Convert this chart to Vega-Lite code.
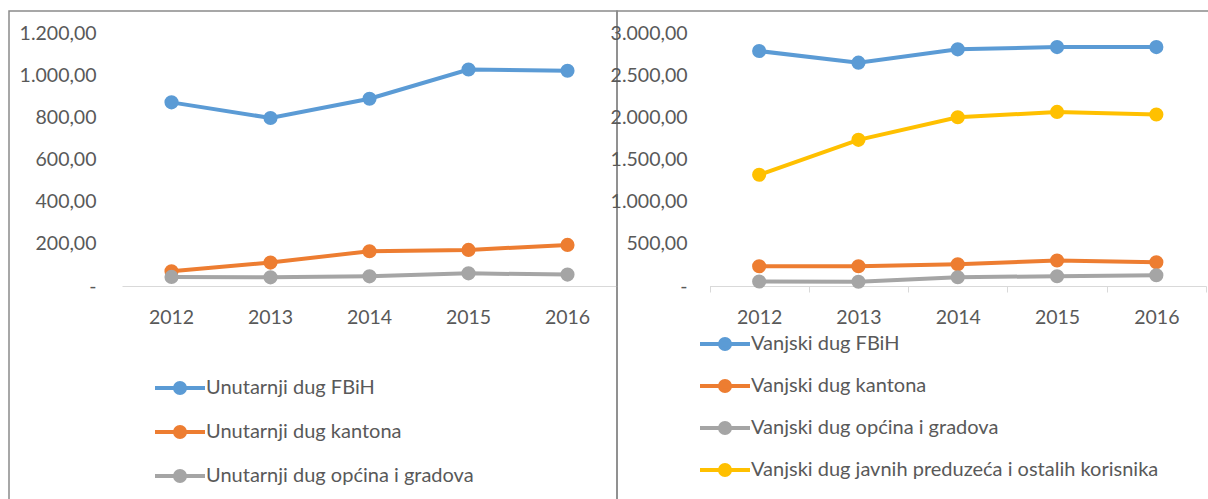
{
  "$schema": "https://vega.github.io/schema/vega-lite/v6.json",
  "background": "white",
  "padding": {"left": 8, "top": 10, "right": 0, "bottom": 0},
  "spacing": 0,
  "bounds": "flush",
  "config": {
    "locale": {"number": {"decimal": ",", "thousands": ".", "grouping": [3], "currency": ["", ""]}},
    "view": {"stroke": "#8a8a8a", "strokeWidth": 1.5},
    "font": "Lato",
    "axis": {"labelFont": "Lato", "labelFontSize": 19.5, "labelColor": "#595959", "grid": false, "title": null},
    "legend": {
      "orient": "none",
      "title": null,
      "symbolType": "M-2.5,0H2.5M-0.5,0A0.5,0.5,0,1,1,0.5,0A0.5,0.5,0,1,1,-0.5,0Z",
      "symbolSize": 400,
      "symbolStrokeWidth": 4,
      "labelFont": "Lato",
      "labelFontSize": 20,
      "labelColor": "#595959",
      "labelOffset": 14,
      "labelLimit": 0,
      "padding": 0
    }
  },
  "datasets": {
    "unutarnji": [
      {"series": "Unutarnji dug FBiH", "year": "2012", "value": 871},
      {"series": "Unutarnji dug FBiH", "year": "2013", "value": 797},
      {"series": "Unutarnji dug FBiH", "year": "2014", "value": 888},
      {"series": "Unutarnji dug FBiH", "year": "2015", "value": 1027},
      {"series": "Unutarnji dug FBiH", "year": "2016", "value": 1021},
      {"series": "Unutarnji dug kantona", "year": "2012", "value": 70},
      {"series": "Unutarnji dug kantona", "year": "2013", "value": 111},
      {"series": "Unutarnji dug kantona", "year": "2014", "value": 165},
      {"series": "Unutarnji dug kantona", "year": "2015", "value": 171},
      {"series": "Unutarnji dug kantona", "year": "2016", "value": 195},
      {"series": "Unutarnji dug općina i gradova", "year": "2012", "value": 43},
      {"series": "Unutarnji dug općina i gradova", "year": "2013", "value": 41},
      {"series": "Unutarnji dug općina i gradova", "year": "2014", "value": 46},
      {"series": "Unutarnji dug općina i gradova", "year": "2015", "value": 60},
      {"series": "Unutarnji dug općina i gradova", "year": "2016", "value": 54}
    ],
    "vanjski": [
      {"series": "Vanjski dug FBiH", "year": "2012", "value": 2786},
      {"series": "Vanjski dug FBiH", "year": "2013", "value": 2648},
      {"series": "Vanjski dug FBiH", "year": "2014", "value": 2806},
      {"series": "Vanjski dug FBiH", "year": "2015", "value": 2833},
      {"series": "Vanjski dug FBiH", "year": "2016", "value": 2833},
      {"series": "Vanjski dug kantona", "year": "2012", "value": 234},
      {"series": "Vanjski dug kantona", "year": "2013", "value": 234},
      {"series": "Vanjski dug kantona", "year": "2014", "value": 258},
      {"series": "Vanjski dug kantona", "year": "2015", "value": 302},
      {"series": "Vanjski dug kantona", "year": "2016", "value": 282},
      {"series": "Vanjski dug općina i gradova", "year": "2012", "value": 53},
      {"series": "Vanjski dug općina i gradova", "year": "2013", "value": 50},
      {"series": "Vanjski dug općina i gradova", "year": "2014", "value": 104},
      {"series": "Vanjski dug općina i gradova", "year": "2015", "value": 116},
      {"series": "Vanjski dug općina i gradova", "year": "2016", "value": 128},
      {"series": "Vanjski dug javnih preduzeća i ostalih korisnika", "year": "2012", "value": 1319},
      {"series": "Vanjski dug javnih preduzeća i ostalih korisnika", "year": "2013", "value": 1733},
      {"series": "Vanjski dug javnih preduzeća i ostalih korisnika", "year": "2014", "value": 2001},
      {"series": "Vanjski dug javnih preduzeća i ostalih korisnika", "year": "2015", "value": 2064},
      {"series": "Vanjski dug javnih preduzeća i ostalih korisnika", "year": "2016", "value": 2033}
    ]
  },
  "hconcat": [
    {
      "width": 608,
      "height": 489,
      "data": {"name": "unutarnji"},
      "encoding": {
        "x": {
          "field": "year", "type": "ordinal", "bandPosition": 0.5,
          "scale": {"type": "band", "range": [113, 608], "paddingInner": 0, "paddingOuter": 0},
          "axis": {"offset": -214, "ticks": false, "tickSize": 0, "labelPadding": 22, "domainColor": "#d9d9d9", "domainWidth": 1, "labelAngle": 0}
        },
        "y": {
          "field": "value", "type": "quantitative",
          "scale": {"domain": [0, 1200], "range": [275, 22], "nice": false},
          "axis": {"values": [0, 200, 400, 600, 800, 1000, 1200], "format": ",.2f", "labelExpr": "datum.value === 0 ? '-\u00a0\u00a0\u00a0\u00a0' : datum.label", "offset": -87, "domain": false, "ticks": false, "tickSize": 0, "labelPadding": 0}
        },
        "color": {
          "field": "series", "type": "nominal",
          "scale": {"domain": ["Unutarnji dug FBiH", "Unutarnji dug kantona", "Unutarnji dug općina i gradova"], "range": ["#5b9bd5", "#ed7d31", "#a5a5a5"]},
          "legend": {"legendX": 159, "legendY": 365, "rowPadding": 18}
        }
      },
      "layer": [
        {"mark": {"type": "line", "strokeWidth": 4}},
        {"mark": {"type": "point", "filled": true, "size": 200, "opacity": 1}}
      ]
    },
    {
      "width": 592,
      "height": 489,
      "data": {"name": "vanjski"},
      "encoding": {
        "x": {
          "field": "year", "type": "ordinal", "bandPosition": 0.5,
          "scale": {"type": "band", "range": [92.5, 589], "paddingInner": 0, "paddingOuter": 0},
          "axis": {"offset": -214, "ticks": true, "tickBand": "extent", "tickSize": 6, "tickColor": "#d9d9d9", "labelPadding": 16, "domainColor": "#d9d9d9", "domainWidth": 1, "labelAngle": 0}
        },
        "y": {
          "field": "value", "type": "quantitative",
          "scale": {"domain": [0, 3000], "range": [275, 22], "nice": false},
          "axis": {"values": [0, 500, 1000, 1500, 2000, 2500, 3000], "format": ",.2f", "labelExpr": "datum.value === 0 ? '-\u00a0\u00a0\u00a0' : datum.label", "offset": -70, "domain": false, "ticks": false, "tickSize": 0, "labelPadding": 0}
        },
        "color": {
          "field": "series", "type": "nominal",
          "scale": {"domain": ["Vanjski dug FBiH", "Vanjski dug kantona", "Vanjski dug općina i gradova", "Vanjski dug javnih preduzeća i ostalih korisnika"], "range": ["#5b9bd5", "#ed7d31", "#a5a5a5", "#ffc000"]},
          "legend": {"legendX": 96, "legendY": 321, "rowPadding": 16}
        }
      },
      "layer": [
        {"mark": {"type": "line", "strokeWidth": 4}},
        {"mark": {"type": "point", "filled": true, "size": 200, "opacity": 1}}
      ]
    }
  ],
  "resolve": {"scale": {"color": "independent", "x": "independent", "y": "independent"}, "legend": {"color": "independent"}}
}
